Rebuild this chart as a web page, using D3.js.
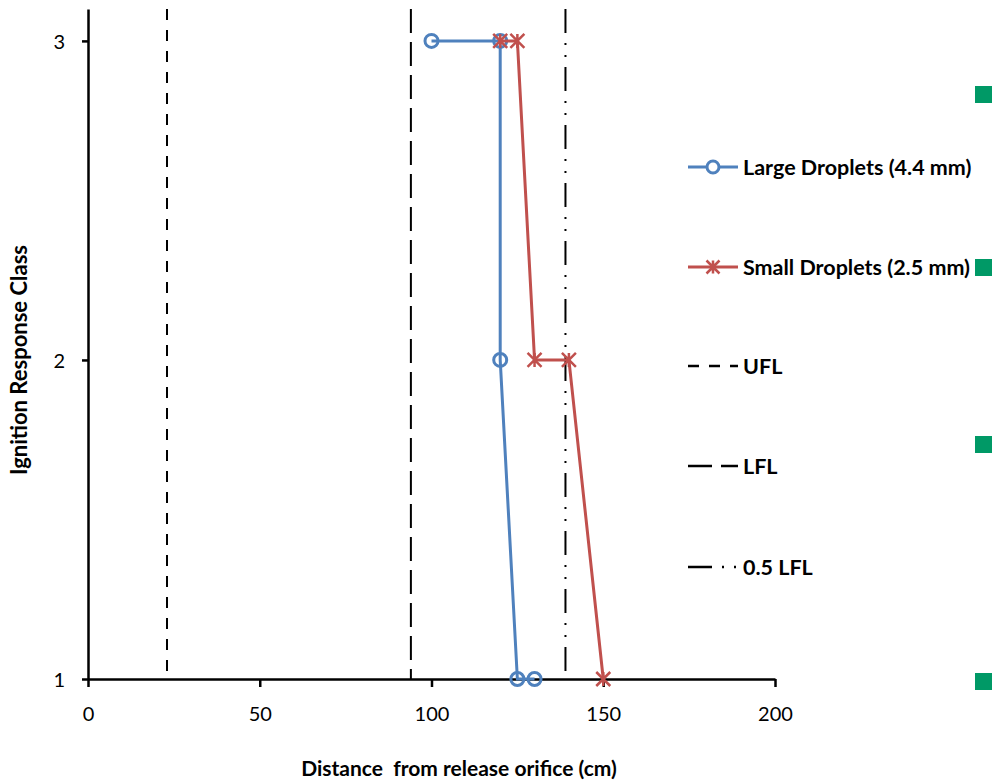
<!DOCTYPE html>
<html>
<head>
<meta charset="utf-8">
<script src="https://cdn.jsdelivr.net/npm/d3@7"></script>
<style>
  html, body { margin: 0; padding: 0; background: #fff; }
  svg { display: block; }
  .tick text { font-family: Lato, "Open Sans", sans-serif; }
</style>
</head>
<body>
<svg id="chart" width="994" height="780"></svg>
<script>
// ---- data ----
const largeDist = [100, 120, 120, 125, 130];
const largeClass = [3, 3, 2, 1, 1];
const smallDist = [120, 125, 130, 140, 150];
const smallClass = [3, 3, 2, 2, 1];

const limitNames = ["UFL", "LFL", "0.5 LFL"];
const limitDist = [23, 94, 139];

const xTicks = [0, 50, 100, 150, 200];
const yTicks = [1, 2, 3];

const seriesNames = ["Large Droplets (4.4 mm)", "Small Droplets (2.5 mm)"];
const sideMarkY = [94.5, 267.5, 444.5, 681.5]; // stray green marks at right edge

// ---- layout ----
const W = 994, H = 780;
const plot = { left: 88, right: 775, top: 9, bottom: 679 };
const blue = "#4F81BD", red = "#C0504D";
const dashes = ["11,10", "24,9", "24,10,2,10,2,10"];

const svg = d3.select("#chart");

const x = d3.scaleLinear().domain([0, 200]).range([plot.left, plot.right]);
const y = d3.scaleLinear().domain([1, 3.1]).range([plot.bottom, plot.top]);

// reference lines (vertical)
svg.append("g")
  .selectAll("line")
  .data(limitDist)
  .join("line")
  .attr("x1", d => x(d)).attr("x2", d => x(d))
  .attr("y1", y(3.1)).attr("y2", y(1))
  .attr("stroke", "#000")
  .attr("stroke-width", 2)
  .attr("stroke-dasharray", (d, i) => dashes[i]);

// axes
const xAxis = svg.append("g")
  .attr("transform", `translate(0,${plot.bottom})`)
  .call(d3.axisBottom(x).tickValues(xTicks).tickSize(8).tickPadding(20).tickSizeOuter(0));
const yAxis = svg.append("g")
  .attr("transform", `translate(${plot.left},0)`)
  .call(d3.axisLeft(y).tickValues(yTicks).tickFormat(d3.format("d"))
    .tickSize(6).tickPadding(17).tickSizeOuter(0));

[xAxis, yAxis].forEach(a => {
  a.select(".domain").attr("stroke", "#000").attr("stroke-width", 2.5);
  a.selectAll(".tick line").attr("stroke", "#000").attr("stroke-width", 2.5);
  a.selectAll(".tick text")
    .attr("fill", "#000")
    .style("font-size", "20px");
});
yAxis.selectAll(".tick text").attr("dy", "0.36em");

// axis titles
svg.append("text")
  .attr("x", 459).attr("y", 776)
  .attr("text-anchor", "middle")
  .attr("xml:space", "preserve")
  .style("font-family", "Lato, sans-serif")
  .style("font-weight", "bold")
  .style("font-size", "21px")
  .text("Distance  from release orifice (cm)");

svg.append("text")
  .attr("transform", "translate(27,360) rotate(-90)")
  .attr("text-anchor", "middle")
  .style("font-family", "Lato, sans-serif")
  .style("font-weight", "bold")
  .style("font-size", "22px")
  .text("Ignition Response Class");

// series
const line = d3.line().x(d => x(d[0])).y(d => y(d[1]));
const largePts = d3.zip(largeDist, largeClass);
const smallPts = d3.zip(smallDist, smallClass);

const starPath = s => `M0,${-s}L0,${s}M${-s},${-s}L${s},${s}M${-s},${s}L${s},${-s}`;

function drawCircles(g, pts) {
  g.selectAll("circle").data(pts).join("circle")
    .attr("cx", d => x(d[0])).attr("cy", d => y(d[1]))
    .attr("r", 6.5)
    .attr("fill", "none")
    .attr("stroke", blue).attr("stroke-width", 3);
}
function drawStars(g, pts) {
  g.selectAll("path.star").data(pts).join("path")
    .attr("class", "star")
    .attr("transform", d => `translate(${x(d[0])},${y(d[1])})`)
    .attr("d", starPath(7))
    .attr("stroke", red).attr("stroke-width", 2.5);
}

const gLarge = svg.append("g");
gLarge.append("path").datum(largePts)
  .attr("d", line).attr("fill", "none")
  .attr("stroke", blue).attr("stroke-width", 3);
drawCircles(gLarge, largePts);

const gSmall = svg.append("g");
gSmall.append("path").datum(smallPts)
  .attr("d", line).attr("fill", "none")
  .attr("stroke", red).attr("stroke-width", 3);
drawStars(gSmall, smallPts);

// legend
const legendY = [167, 267, 366, 466, 567];
const legendLabels = seriesNames.concat(limitNames);
const lg = svg.append("g");
legendLabels.forEach((label, i) => {
  const row = lg.append("g").attr("transform", `translate(688,${legendY[i]})`);
  if (i < 2) {
    const col = i === 0 ? blue : red;
    row.append("line").attr("x1", 0).attr("x2", 50)
      .attr("stroke", col).attr("stroke-width", 3);
    if (i === 0) {
      row.append("circle").attr("cx", 25).attr("r", 6)
        .attr("fill", "#fff").attr("stroke", blue).attr("stroke-width", 3);
    } else {
      row.append("path").attr("transform", "translate(25,0)")
        .attr("d", starPath(6.5)).attr("stroke", red).attr("stroke-width", 2.5);
    }
  } else {
    row.append("line").attr("x1", 0).attr("x2", 50)
      .attr("stroke", "#000").attr("stroke-width", 2.5)
      .attr("stroke-dasharray", dashes[i - 2]);
  }
  row.append("text")
    .attr("x", 55).attr("dy", "0.35em")
    .style("font-family", "Lato, sans-serif")
    .style("font-weight", "bold")
    .style("font-size", "21.5px")
    .text(label);
});

// green marks on the right edge
svg.append("g")
  .selectAll("rect")
  .data(sideMarkY)
  .join("rect")
  .attr("x", 975).attr("y", d => d - 8.5)
  .attr("width", 17).attr("height", 17)
  .attr("fill", "#009966");
</script>
</body>
</html>
